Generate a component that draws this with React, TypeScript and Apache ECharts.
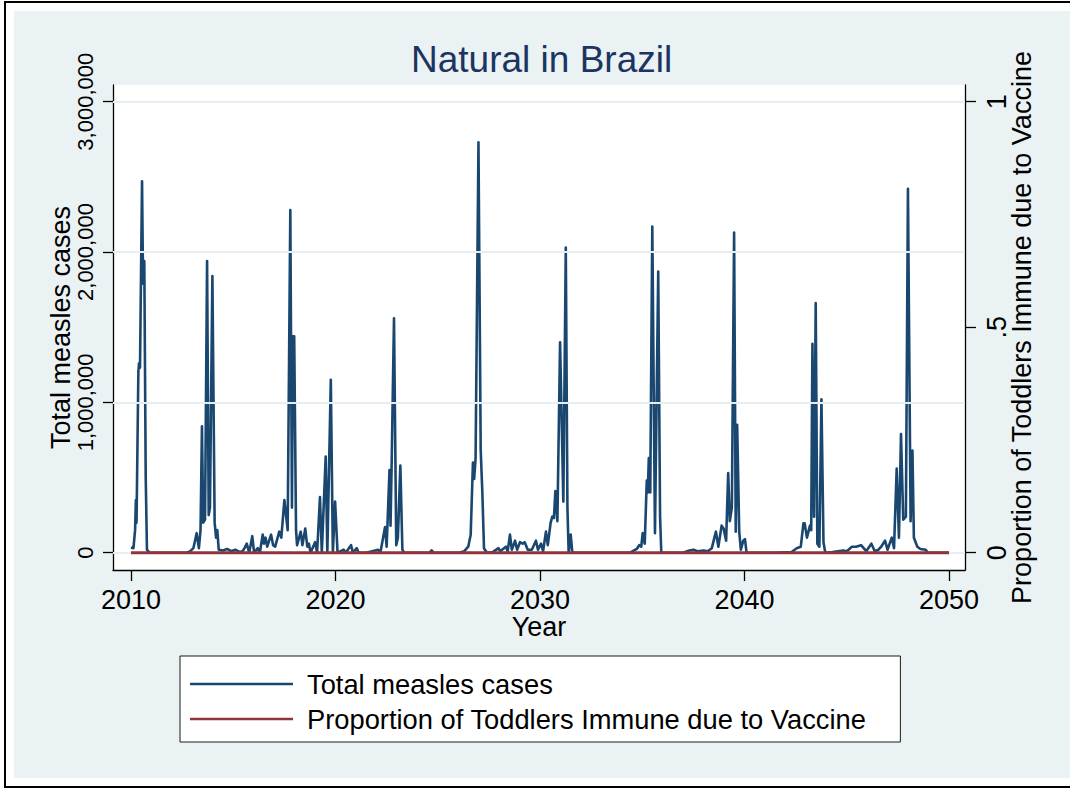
import React, { useEffect, useRef } from "react";
import * as echarts from "echarts";

const titleText = "Natural in Brazil";
const casesName = "Total measles cases";
const vaccineName = "Proportion of Toddlers Immune due to Vaccine";
const xTitle = "Year";

const yearTicks = [2010, 2020, 2030, 2040, 2050];
const caseTicks = [0, 1000000, 2000000, 3000000];
const proportionTicks = [0, 0.5, 1];

const caseYears = [
  2010.0, 2010.12, 2010.2, 2010.24, 2010.27, 2010.36, 2010.39, 2010.44, 2010.54, 2010.59, 2010.65, 2010.72, 2010.78, 2010.9,
  2011.5, 2012.0, 2012.5, 2012.72, 2012.9, 2013.05, 2013.21, 2013.32, 2013.4, 2013.47, 2013.53, 2013.62, 2013.72, 2013.8,
  2013.86, 2013.98, 2014.09, 2014.16, 2014.22, 2014.29, 2014.5, 2014.7, 2014.9, 2015.1, 2015.3, 2015.45, 2015.55, 2015.66,
  2015.78, 2015.93, 2016.02, 2016.2, 2016.3, 2016.44, 2016.5, 2016.58, 2016.66, 2016.85, 2016.95, 2017.05, 2017.25, 2017.35,
  2017.5, 2017.66, 2017.79, 2017.87, 2017.92, 2017.98, 2018.07, 2018.12, 2018.3, 2018.38, 2018.52, 2018.62, 2018.7, 2018.78,
  2019.0, 2019.1, 2019.24, 2019.33, 2019.52, 2019.6, 2019.77, 2019.87, 2019.98, 2020.1, 2020.4, 2020.5, 2020.76, 2020.85,
  2021.04, 2021.13, 2021.5, 2022.08, 2022.2, 2022.42, 2022.5, 2022.58, 2022.64, 2022.69, 2022.74, 2022.86, 2022.97, 2023.05,
  2023.17, 2023.27, 2023.35, 2024.0, 2024.6, 2024.7, 2024.8, 2026.05, 2026.3, 2026.49, 2026.61, 2026.72, 2026.78, 2026.85,
  2026.99, 2027.1, 2027.18, 2027.26, 2027.4, 2027.7, 2027.97, 2028.05, 2028.33, 2028.42, 2028.53, 2028.62, 2028.78, 2028.88,
  2029.02, 2029.15, 2029.25, 2029.4, 2029.6, 2029.8, 2029.9, 2030.05, 2030.15, 2030.29, 2030.38, 2030.52, 2030.6, 2030.68,
  2030.75, 2030.85, 2030.98, 2031.14, 2031.26, 2031.34, 2031.4, 2031.5, 2031.58, 2033.4, 2034.4, 2034.73, 2034.85, 2034.95,
  2035.02, 2035.12, 2035.22, 2035.27, 2035.32, 2035.39, 2035.49, 2035.62, 2035.78, 2035.87, 2035.93, 2037.0, 2037.3, 2037.5,
  2037.7, 2038.0, 2038.2, 2038.4, 2038.6, 2038.72, 2038.88, 2038.98, 2039.1, 2039.2, 2039.28, 2039.38, 2039.49, 2039.57,
  2039.64, 2039.74, 2039.82, 2039.94, 2040.02, 2040.1, 2040.75, 2041.5, 2042.3, 2042.55, 2042.75, 2042.88, 2042.94, 2043.05,
  2043.2, 2043.26, 2043.32, 2043.4, 2043.48, 2043.56, 2043.66, 2043.76, 2043.86, 2043.95, 2044.3, 2044.83, 2045.0, 2045.25,
  2045.45, 2045.7, 2045.95, 2046.2, 2046.37, 2046.55, 2046.68, 2046.87, 2046.99, 2047.2, 2047.31, 2047.44, 2047.55, 2047.65,
  2047.76, 2047.89, 2047.99, 2048.12, 2048.21, 2048.28, 2048.45, 2048.6, 2048.86, 2048.95, 2050.0,
];

const caseCounts = [
  35000, 30000, 150000, 350000, 200000, 1200000, 1260000, 1230000, 2470000, 1790000, 1940000, 500000, 20000, 0,
  0, 0, 0, 0, 10000, 30000, 130000, 30000, 150000, 840000, 200000, 220000, 1940000, 250000,
  300000, 1840000, 200000, 100000, 150000, 20000, 15000, 25000, 10000, 20000, 5000, 10000, 30000, 60000,
  0, 110000, 0, 30000, 0, 120000, 60000, 100000, 40000, 120000, 50000, 40000, 140000, 100000,
  350000, 150000, 2280000, 300000, 1440000, 1440000, 150000, 50000, 140000, 50000, 160000, 40000, 60000, 0,
  70000, 0, 370000, 0, 640000, 0, 1150000, 0, 340000, 0, 20000, 0, 50000, 0,
  30000, 0, 0, 20000, 5000, 170000, 40000, 330000, 550000, 180000, 550000, 1560000, 50000, 100000,
  580000, 20000, 0, 0, 0, 15000, 0, 0, 10000, 40000, 120000, 600000, 490000, 630000,
  2730000, 680000, 400000, 30000, 0, 5000, 30000, 10000, 40000, 10000, 120000, 20000, 80000, 20000,
  70000, 60000, 70000, 20000, 20000, 80000, 20000, 60000, 10000, 140000, 50000, 200000, 240000, 230000,
  410000, 210000, 1400000, 340000, 2030000, 300000, 0, 120000, 0, 0, 0, 25000, 50000, 40000,
  130000, 60000, 480000, 400000, 630000, 400000, 2170000, 130000, 1870000, 240000, 0, 0, 15000, 20000,
  10000, 15000, 10000, 30000, 140000, 40000, 180000, 160000, 80000, 530000, 210000, 300000, 2130000, 140000,
  850000, 140000, 20000, 80000, 90000, 0, 0, 0, 5000, 30000, 40000, 195000, 195000, 100000,
  180000, 150000, 1390000, 240000, 1660000, 60000, 40000, 1020000, 70000, 0, 5000, 15000, 10000, 40000,
  40000, 50000, 10000, 60000, 10000, 20000, 40000, 80000, 20000, 100000, 30000, 560000, 100000, 790000,
  220000, 240000, 2420000, 210000, 680000, 100000, 40000, 25000, 20000, 0, 0,
];

const vaccineYears = [2010, 2050];
const vaccineProportion = [0, 0];

const FONT = "'Liberation Sans', Arial, Helvetica, sans-serif";

export default function App() {
  const ref = useRef<HTMLDivElement>(null);

  useEffect(() => {
    if (!ref.current) return;
    const chart = echarts.init(ref.current, null, { renderer: "svg" });
    const casesData = caseYears.map((y, i) => [y, caseCounts[i]]);
    const vaccineData = vaccineYears.map((y, i) => [y, vaccineProportion[i]]);

    chart.setOption({
      animation: false,
      backgroundColor: "transparent",
      textStyle: { fontFamily: FONT },
      title: {
        text: titleText,
        left: 411,
        top: 41,
        padding: 0,
        textStyle: { fontFamily: FONT, fontSize: 37, fontWeight: "normal", color: "#1C3461" },
      },
      grid: {
        left: 113,
        top: 85,
        width: 852,
        height: 485,
        show: true,
        backgroundColor: "#ffffff",
        borderWidth: 0,
        containLabel: false,
      },
      legend: {
        orient: "vertical",
        left: 180,
        top: 656,
        padding: [13, 34, 8, 10],
        itemGap: 5,
        itemWidth: 103,
        itemHeight: 2.5,
        backgroundColor: "#ffffff",
        borderColor: "#1a1a1a",
        borderWidth: 1,
        borderRadius: 0,
        data: [
          { name: casesName, icon: "rect" },
          { name: vaccineName, icon: "rect" },
        ],
        textStyle: { fontFamily: FONT, fontSize: 27.3, color: "#000", lineHeight: 30, padding: [0, 0, 0, 9] },
      },
      xAxis: {
        type: "value",
        min: 2009.12,
        max: 2050.78,
        name: xTitle,
        nameLocation: "middle",
        nameGap: 43,
        nameMoveOverlap: false,
        nameTextStyle: { fontFamily: FONT, fontSize: 27, color: "#000" },
        axisLine: { show: true, onZero: false, lineStyle: { color: "#000", width: 1.3 } },
        axisTick: { show: true, length: 11, customValues: yearTicks, lineStyle: { color: "#000", width: 1.3 } },
        axisLabel: {
          customValues: yearTicks,
          margin: 16,
          fontFamily: FONT,
          fontSize: 27,
          color: "#000",
          formatter: (v: number) => String(v),
        },
        splitLine: { show: false },
      },
      yAxis: [
        {
          type: "value",
          position: "left",
          min: -115100,
          max: 3111100,
          name: casesName,
          nameLocation: "middle",
          nameRotate: 90,
          nameGap: 39,
          nameMoveOverlap: false,
          nameTextStyle: { fontFamily: FONT, fontSize: 27, color: "#000" },
          axisLine: { show: true, lineStyle: { color: "#000", width: 1.3 } },
          axisTick: { show: true, length: 10, customValues: caseTicks, lineStyle: { color: "#000", width: 1.3 } },
          axisLabel: {
            customValues: caseTicks,
            rotate: 90,
            margin: 17,
            fontFamily: FONT,
            fontSize: 22,
            color: "#000",
            formatter: (v: number) => Math.round(v).toLocaleString("en-US"),
          },
          splitLine: { show: false },
        },
        {
          type: "value",
          position: "right",
          min: -0.0384,
          max: 1.037,
          name: vaccineName,
          nameLocation: "middle",
          nameRotate: 90,
          nameGap: 43,
          nameMoveOverlap: false,
          nameTextStyle: { fontFamily: FONT, fontSize: 27, color: "#000" },
          axisLine: { show: true, lineStyle: { color: "#000", width: 1.3 } },
          axisTick: { show: true, length: 11, customValues: proportionTicks, lineStyle: { color: "#000", width: 1.3 } },
          axisLabel: {
            customValues: proportionTicks,
            rotate: 90,
            margin: 18,
            fontFamily: FONT,
            fontSize: 27,
            color: "#000",
            formatter: (v: number) => (v === 0 ? "0" : v === 1 ? "1" : String(v).replace(/^0/, "")),
          },
          splitLine: { show: false },
        },
      ],
      series: [
        {
          name: "gridlines",
          type: "line",
          data: [],
          z: 1,
          silent: true,
          showSymbol: false,
          markLine: {
            silent: true,
            symbol: ["none", "none"],
            label: { show: false },
            lineStyle: { color: "#E6EEF0", width: 2, type: "solid" },
            data: caseTicks.map((v) => ({ yAxis: v })),
          },
        },
        {
          name: casesName,
          type: "line",
          data: casesData,
          yAxisIndex: 0,
          showSymbol: false,
          symbol: "none",
          z: 2,
          color: "#1A476F",
          lineStyle: { color: "#1A476F", width: 2.6, join: "round" },
        },
        {
          name: vaccineName,
          type: "line",
          data: vaccineData,
          yAxisIndex: 1,
          showSymbol: false,
          symbol: "none",
          z: 20,
          color: "#90353B",
          lineStyle: { color: "#90353B", width: 3 },
        },
      ],
    });

    return () => chart.dispose();
  }, []);

  return (
    <div style={{ position: "absolute", left: 0, top: 0, width: 1070, height: 789, background: "#ffffff" }}>
      <div style={{ position: "absolute", left: 4, top: 1, width: 2, height: 787, background: "#000" }} />
      <div style={{ position: "absolute", left: 4, top: 1, width: 1066, height: 2, background: "#000" }} />
      <div style={{ position: "absolute", left: 4, top: 786, width: 1066, height: 2, background: "#000" }} />
      <div style={{ position: "absolute", left: 14, top: 11, width: 1056, height: 767, background: "#EAF2F3" }} />
      <div ref={ref} style={{ position: "absolute", left: 0, top: 0, width: 1070, height: 789 }} />
    </div>
  );
}
